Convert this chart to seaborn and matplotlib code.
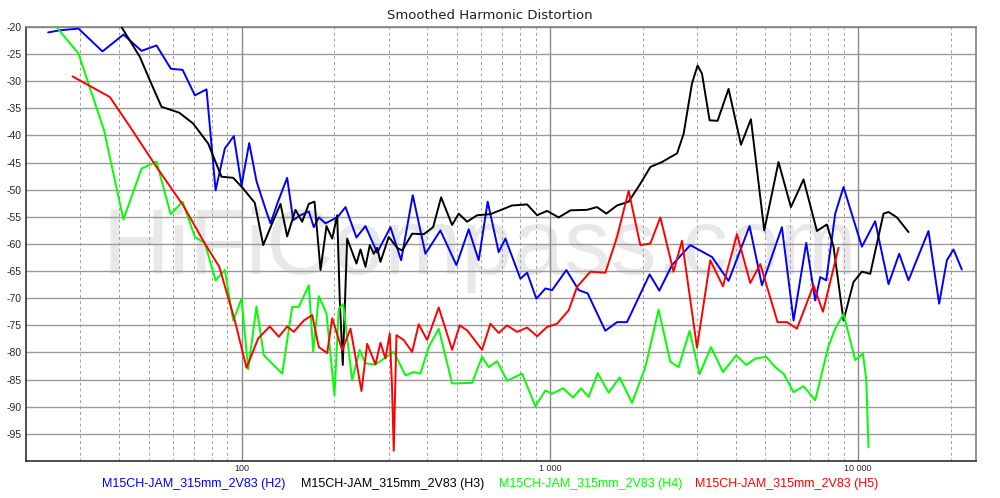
import numpy as np
import pandas as pd
import matplotlib
matplotlib.use("Agg")
import matplotlib.pyplot as plt
import seaborn as sns
from matplotlib.ticker import FixedLocator, NullFormatter

# ---------------- data (Hz, dB) ----------------
h2_freq = [23.6, 25.8, 29.6, 35.4, 41.4, 47.4, 53.0, 59.0, 64.4, 70.6, 77.0, 82.4, 88.3, 94.4,
           100, 105.9, 111.8, 120.5, 124.2, 130.5, 140.6, 147.1, 155.3, 165.3, 171.6, 178.1,
           187.2, 205.2, 217.4, 235.9, 252.3, 275.4, 304.1, 329.4, 359.2, 394.8, 441.6, 497.7,
           545.5, 587.7, 628.5, 682.3, 717.3, 802.5, 843.7, 904.2, 967, 1017, 1131, 1240, 1326,
           1513, 1651, 1779, 2106, 2265, 2489, 2854, 3357, 3798, 4443, 4873, 5657, 6171, 6784,
           7255, 7530, 7876, 8423, 8961, 10280, 11350, 12540, 13580, 14560, 16900, 18300,
           19390, 20370, 21680]
h2_db = [-21.0, -20.6, -20.3, -24.5, -21.4, -24.4, -23.4, -27.7, -27.9, -32.6, -31.5, -50.1, -42.4,
         -40.1, -49.2, -41.4, -48.4, -54.1, -56.2, -52.6, -47.8, -55.6, -54.7, -54.0, -56.9, -55.1,
         -56.2, -55.0, -53.2, -58.8, -56.7, -61.6, -56.9, -63.0, -51.0, -61.8, -57.5, -63.9,
         -57.3, -63.0, -52.2, -61.5, -59.0, -66.4, -65.3, -70.1, -68.2, -68.5, -64.8, -68.5, -69.1,
         -76.0, -74.4, -74.4, -65.6, -68.6, -63.9, -60.2, -62.4, -66.8, -56.7, -67.6, -56.9, -74.1,
         -59.8, -70.4, -66.1, -66.7, -54.4, -49.5, -60.5, -55.8, -67.4, -61.8, -66.7, -57.6, -71.0,
         -63.0, -61.0, -64.7]

h3_freq = [37.8, 40.8, 46.8, 50.4, 55.0, 62.8, 69.7, 78.0, 86.1, 94.0, 101.3, 110.4, 117.6, 125.7,
           133.8, 140.6, 149.6, 157.3, 165.3, 172.5, 180.4, 188.6, 196.8, 204.3, 208.3, 213.0,
           220.1, 235.9, 243.1, 252.3, 260.6, 268.5, 275.4, 282.2, 300.2, 319.7, 331.9, 357.5,
           389.8, 418.2, 443.9, 481.9, 506.2, 538.9, 580.8, 641.4, 754.2, 843.7, 909, 979, 1068,
           1166, 1320, 1422, 1524, 1651, 1801, 1965, 2118, 2310, 2458, 2585, 2715, 2890, 3014,
           3114, 3296, 3499, 3798, 4167, 4488, 4958, 5515, 6050, 6647, 7346, 7914, 8318, 8961,
           9656, 10280, 10940, 12080, 12540, 13350, 14560]
h3_db = [-17.0, -20.0, -25.5, -29.8, -34.7, -35.8, -37.8, -41.5, -47.6, -47.8, -49.8, -52.4, -60.2,
         -56.2, -52.6, -58.6, -53.7, -55.9, -52.6, -52.2, -64.8, -56.7, -59.0, -54.7, -70.4, -82.3,
         -59.0, -63.6, -61.0, -64.2, -60.2, -61.8, -60.7, -63.3, -58.7, -60.7, -61.2, -58.1,
         -58.2, -56.9, -51.4, -56.5, -54.4, -55.9, -54.7, -54.5, -52.9, -52.7, -54.7, -53.9, -55.1,
         -53.8, -53.7, -53.2, -54.4, -52.9, -52.2, -48.9, -45.8, -44.9, -44.0, -43.3, -39.7, -30.4,
         -27.1, -28.6, -37.2, -37.3, -31.4, -41.7, -37.0, -57.5, -44.9, -53.2, -48.1, -57.6, -56.4,
         -60.5, -74.1, -67.0, -65.1, -65.5, -54.4, -54.1, -55.1, -57.8]

h4_freq = [23.2, 25.1, 29.6, 35.8, 41.4, 47.4, 53.0, 58.9, 64.4, 70.6, 76.0, 82.4, 88.3, 94.0, 100,
           105.1, 111.8, 118.1, 135.5, 146.0, 153.4, 165.3, 170.8, 178.1, 188.6, 200.2, 206.7,
           213.7, 228.5, 241.7, 252.3, 271.9, 311.7, 340.1, 361.8, 380.3, 404.7, 436.0, 481.9,
           559.4, 602.8, 633.3, 674.3, 726.5, 812.6, 897.4, 967, 1017, 1104, 1189, 1262, 1336,
           1429, 1551, 1684, 1847, 2040, 2253, 2458, 2616, 2839, 3059, 3330, 3642, 4023, 4335,
           4636, 5031, 5383, 5727, 6171, 6647, 7255, 8010, 8423, 8961, 9779, 10360, 10620, 10800]
h4_db = [-17.5, -20.0, -24.9, -39.0, -55.5, -46.1, -44.8, -54.5, -52.2, -58.7, -59.8, -66.7, -64.8,
         -74.1, -70.1, -83.1, -71.5, -80.5, -83.9, -71.6, -71.6, -67.6, -79.9, -69.6, -72.8, -87.9,
         -71.9, -71.1, -85.1, -79.5, -82.0, -82.2, -79.9, -84.2, -83.6, -83.9, -79.0, -75.6, -85.7,
         -85.6, -80.8, -82.7, -81.6, -85.2, -83.9, -89.9, -87.0, -87.6, -86.6, -88.3, -86.6, -88.2,
         -83.8, -87.4, -84.6, -89.3, -82.7, -72.1, -81.7, -82.7, -76.0, -84.0, -79.0, -83.6, -80.5,
         -82.3, -81.1, -80.8, -82.7, -83.9, -87.3, -86.2, -88.8, -78.8, -75.6, -72.9, -81.4, -80.2,
         -85.0, -97.5]

h5_freq = [28.3, 37.4, 43.5, 53.0, 64.7, 76.0, 84.7, 95.1, 103.8, 113.3, 123.5, 132.1, 140.6,
           147.7, 159.2, 169.5, 178.1, 189.6, 196.8, 212.1, 225.6, 244.9, 255.6, 271.9, 282.2,
           292.9, 302.5, 307.5, 311.7, 318.0, 335.8, 357.5, 375.5, 399.9, 436.0, 481.9, 510,
           538.9, 602.8, 641.4, 682.3, 726.5, 783, 843.7, 909, 979, 1055, 1151, 1225, 1353, 1513,
           1651, 1801, 1965, 2118, 2282, 2519, 2682, 3000, 3313, 3642, 4045, 4466, 4812, 5475,
           5873, 6329, 7164, 7684, 8633]
h5_db = [-29.1, -32.9, -38.4, -45.8, -52.9, -59.9, -64.2, -74.1, -82.8, -77.4, -75.2, -77.1, -75.2,
         -76.2, -74.1, -73.1, -79.0, -80.1, -73.7, -79.6, -75.6, -87.1, -78.4, -82.2, -78.2,
         -81.1, -76.5, -86.0, -98.1, -76.8, -77.7, -79.9, -74.8, -77.7, -71.7, -79.5, -75.0,
         -75.9, -79.5, -74.7, -76.4, -75.0, -76.2, -75.4, -77.0, -75.3, -74.7, -72.2, -67.9, -65.1,
         -65.3, -58.7, -50.2, -60.2, -59.9, -55.1, -65.1, -59.4, -79.1, -63.0, -67.8, -58.2, -67.2,
         -63.7, -74.4, -74.4, -75.6, -67.6, -72.5, -60.7]

series_names = ["M15CH-JAM_315mm_2V83 (H2)", "M15CH-JAM_315mm_2V83 (H3)",
                "M15CH-JAM_315mm_2V83 (H4)", "M15CH-JAM_315mm_2V83 (H5)"]
series_colors = ["#0000ff", "#000000", "#00ff00", "#ff0000"]

y_ticks = [-20, -25, -30, -35, -40, -45, -50, -55, -60, -65, -70, -75, -80, -85, -90, -95]
x_major = [100, 1000, 10000]
x_major_labels = ["100", "1 000", "10 000"]
x_minor = [30, 40, 50, 60, 70, 80, 90, 200, 300, 400, 500, 600, 700, 800, 900,
           2000, 3000, 4000, 5000, 6000, 7000, 8000, 9000, 20000]

# ---------------- figure ----------------
sns.set_style("white")
plt.rcParams['font.family'] = ['Liberation Sans', 'DejaVu Sans']

fig = plt.figure(figsize=(10, 4.98), dpi=100)
ax = fig.add_axes([0.026, 0.0743, 0.950, 0.8715])

ax.text(0.080, 0.431, "HiFiCompass.com", transform=ax.transAxes, fontsize=66.5,
        color="#e8e8e8", ha="left", va="baseline", zorder=0.3)

data_sets = [(h2_freq, h2_db), (h3_freq, h3_db), (h4_freq, h4_db), (h5_freq, h5_db)]
for (fq, db), name, col in zip(data_sets, series_names, series_colors):
    df = pd.DataFrame({"freq": fq, "db": db})
    sns.lineplot(data=df, x="freq", y="db", ax=ax, color=col, linewidth=1.4,
                 estimator=None, sort=False, legend=False, zorder=3)

ax.set_xscale("log")
ax.set_xlim(20, 24100)
ax.set_ylim(-100, -20)

ax.xaxis.set_major_locator(FixedLocator(x_major))
ax.set_xticklabels(x_major_labels, fontsize=6.5)
ax.xaxis.set_minor_locator(FixedLocator(x_minor))
ax.xaxis.set_minor_formatter(NullFormatter())
ax.set_yticks(y_ticks)
ax.set_yticklabels([str(v) for v in y_ticks], fontsize=7.5)
ax.tick_params(axis="both", which="both", length=0, pad=2)
ax.tick_params(axis="y", pad=3)
ax.set_xlabel("")
ax.set_ylabel("")

ax.set_axisbelow(True)
ax.grid(True, which="major", axis="y", color="#9a9a9a", linewidth=1.0, linestyle="-")
ax.grid(True, which="major", axis="x", color="#8a8a8a", linewidth=1.0, linestyle="-")
ax.grid(True, which="minor", axis="x", color="#a0a0a0", linewidth=0.7, linestyle=(0, (3, 3)))

for side in ["left", "bottom"]:
    ax.spines[side].set_color("#303030")
    ax.spines[side].set_linewidth(1.2)
for side in ["top", "right"]:
    ax.spines[side].set_color("#808080")
    ax.spines[side].set_linewidth(1.2)

fig.text(0.49, 0.969, "Smoothed Harmonic Distortion", ha="center", va="center",
         fontsize=9.5, color="#202020", family=["DejaVu Sans"])

label_x = [0.194, 0.393, 0.591, 0.787]
for lx, name, col in zip(label_x, series_names, series_colors):
    fig.text(lx, 0.028, name, ha="center", va="center", fontsize=9, color=col)

fig.savefig("out.png", dpi=100, facecolor="white")
